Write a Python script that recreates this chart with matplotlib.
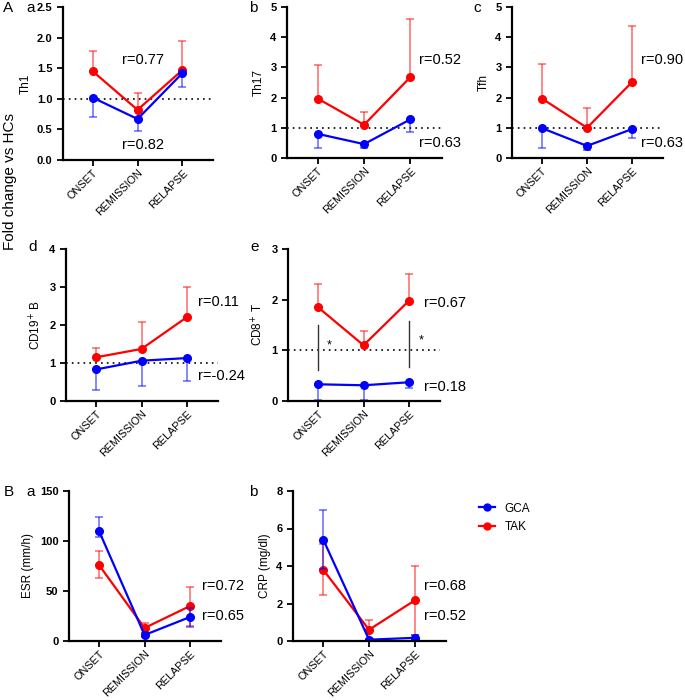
import numpy as np
import matplotlib
matplotlib.use('Agg')
import matplotlib.pyplot as plt
from matplotlib.lines import Line2D

plt.rcParams['font.family'] = ['Liberation Sans', 'DejaVu Sans']

phases = ['ONSET', 'REMISSION', 'RELAPSE']

# panel A: fold change vs HCs (mean, one-sided error bar end)
th1_tak = [1.45, 0.82, 1.47]
th1_tak_hi = [1.78, 1.09, 1.94]
th1_gca = [1.02, 0.67, 1.42]
th1_gca_lo = [0.70, 0.47, 1.20]

th17_tak = [1.97, 1.10, 2.68]
th17_tak_hi = [3.08, 1.52, 4.60]
th17_gca = [0.80, 0.46, 1.28]
th17_gca_lo = [0.32, 0.32, 0.85]

tfh_tak = [1.97, 1.00, 2.52]
tfh_tak_hi = [3.12, 1.66, 4.37]
tfh_gca = [0.99, 0.40, 0.96]
tfh_gca_lo = [0.32, 0.25, 0.65]

cd19_tak = [1.15, 1.37, 2.21]
cd19_tak_hi = [1.40, 2.09, 3.00]
cd19_gca = [0.83, 1.06, 1.13]
cd19_gca_lo = [0.30, 0.40, 0.53]

cd8_tak = [1.85, 1.10, 1.98]
cd8_tak_hi = [2.30, 1.39, 2.50]
cd8_gca = [0.33, 0.31, 0.37]
cd8_gca_lo = [0.02, 0.02, 0.26]

# panel B: ESR and CRP (mean, lower, upper)
esr_tak = [76, 13, 35]
esr_tak_lo = [63, 8, 15]
esr_tak_hi = [90, 18, 54]
esr_gca = [110, 6, 24]
esr_gca_lo = [104, 4, 14]
esr_gca_hi = [124, 8, 33]

crp_tak = [3.80, 0.60, 2.17]
crp_tak_lo = [2.45, 0.05, 0.34]
crp_tak_hi = [5.20, 1.13, 3.98]
crp_gca = [5.41, 0.07, 0.17]
crp_gca_lo = [3.85, 0.03, 0.05]
crp_gca_hi = [6.98, 0.11, 0.32]

W, H = 685, 700
fig = plt.figure(figsize=(W / 100, H / 100), dpi=100)

RED = '#ff0000'
BLUE = '#0000ff'
x = np.arange(3)
RSIZE = 10.5
YLSIZE = 8.5


def make_ax(l, r, t, b):
    ax = fig.add_axes([l / W, 1 - b / H, (r - l) / W, (b - t) / H])
    for s in ['top', 'right']:
        ax.spines[s].set_visible(False)
    for s in ['left', 'bottom']:
        ax.spines[s].set_linewidth(1.6)
    ax.tick_params(width=1.3, length=4, labelsize=8)
    ax.tick_params(axis='x', pad=1.5)
    ax.set_xticks(x)
    ax.set_xticklabels(phases, rotation=45, ha='right', rotation_mode='anchor',
                       fontsize=7.8)
    ax.set_xlim(-0.66, 2.68)
    return ax


def set_yticks(ax, ticks, labels):
    ax.set_yticks(ticks)
    ax.set_yticklabels(labels, fontweight='bold', fontsize=8)


def series(ax, y, lo, hi, color):
    y = np.array(y, dtype=float)
    err = [y - np.array(lo, dtype=float), np.array(hi, dtype=float) - y]
    ec = matplotlib.colors.to_rgba(color, 0.55)
    ax.errorbar(x, y, yerr=err, fmt='none', ecolor=ec, elinewidth=1.2,
                capsize=3, capthick=1.2)
    ax.plot(x, y, '-o', color=color, lw=1.6, ms=5.5)


def panel_a(ax, tak, tak_hi, gca, gca_lo, ymax, ticks, labels, ylabel):
    ax.axhline(1, color='black', ls=(0, (1, 2.5)), lw=1.2)
    series(ax, tak, tak, tak_hi, RED)
    series(ax, gca, gca_lo, gca, BLUE)
    ax.set_ylim(0, ymax)
    set_yticks(ax, ticks, labels)
    ax.set_ylabel(ylabel, fontsize=YLSIZE, labelpad=4)


# A a
ax = make_ax(63, 213, 7, 160)
panel_a(ax, th1_tak, th1_tak_hi, th1_gca, th1_gca_lo, 2.5,
        [0, 0.5, 1.0, 1.5, 2.0, 2.5], ['0.0', '0.5', '1.0', '1.5', '2.0', '2.5'],
        'Th1')
ax.text(1.12, 1.63, 'r=0.77', fontsize=RSIZE, ha='center', va='center')
ax.text(1.12, 0.25, 'r=0.82', fontsize=RSIZE, ha='center', va='center')

# A b
ax = make_ax(287, 442, 7, 158)
panel_a(ax, th17_tak, th17_tak_hi, th17_gca, th17_gca_lo, 5, range(6),
        [str(i) for i in range(6)], 'Th17')
ax.text(2.18, 3.25, 'r=0.52', fontsize=RSIZE, va='center')
ax.text(2.18, 0.5, 'r=0.63', fontsize=RSIZE, va='center')

# A c
ax = make_ax(512, 663, 7, 158)
panel_a(ax, tfh_tak, tfh_tak_hi, tfh_gca, tfh_gca_lo, 5, range(6),
        [str(i) for i in range(6)], 'Tfh')
ax.text(2.2, 3.25, 'r=0.90', fontsize=RSIZE, va='center')
ax.text(2.2, 0.5, 'r=0.63', fontsize=RSIZE, va='center')

# A d
ax = make_ax(66, 218, 249, 401)
panel_a(ax, cd19_tak, cd19_tak_hi, cd19_gca, cd19_gca_lo, 4, range(5),
        [str(i) for i in range(5)], 'CD19$^{+}$ B')
ax.text(2.24, 2.6, 'r=0.11', fontsize=RSIZE, va='center')
ax.text(2.24, 0.66, 'r=-0.24', fontsize=RSIZE, va='center')

# A e
ax = make_ax(288, 440, 249, 401)
panel_a(ax, cd8_tak, cd8_tak_hi, cd8_gca, cd8_gca_lo, 3, range(4),
        [str(i) for i in range(4)], 'CD8$^{+}$ T')
ax.plot([0, 0], [0.62, 1.5], color='#333333', lw=1)
ax.plot([2, 2], [0.68, 1.57], color='#333333', lw=1)
ax.text(0.24, 0.98, '*', fontsize=9, ha='center', va='bottom')
ax.text(2.26, 1.07, '*', fontsize=9, ha='center', va='bottom')
ax.text(2.33, 1.94, 'r=0.67', fontsize=RSIZE, va='center')
ax.text(2.33, 0.27, 'r=0.18', fontsize=RSIZE, va='center')

# B a
ax = make_ax(69, 221, 491, 641)
series(ax, esr_tak, esr_tak_lo, esr_tak_hi, RED)
series(ax, esr_gca, esr_gca_lo, esr_gca_hi, BLUE)
ax.set_ylim(0, 150)
set_yticks(ax, [0, 50, 100, 150], ['0', '50', '100', '150'])
ax.set_ylabel('ESR (mm/h)', fontsize=YLSIZE, labelpad=4)
ax.text(2.26, 55, 'r=0.72', fontsize=RSIZE, va='center')
ax.text(2.26, 25, 'r=0.65', fontsize=RSIZE, va='center')

# B b
ax = make_ax(293, 446, 491, 641)
series(ax, crp_tak, crp_tak_lo, crp_tak_hi, RED)
series(ax, crp_gca, crp_gca_lo, crp_gca_hi, BLUE)
ax.set_ylim(0, 8)
set_yticks(ax, [0, 2, 4, 6, 8], ['0', '2', '4', '6', '8'])
ax.set_ylabel('CRP (mg/dl)', fontsize=YLSIZE, labelpad=4)
ax.text(2.2, 2.91, 'r=0.68', fontsize=RSIZE, va='center')
ax.text(2.2, 1.32, 'r=0.52', fontsize=RSIZE, va='center')

# legend
handles = [Line2D([], [], color=BLUE, marker='o', ms=5, lw=1.6),
           Line2D([], [], color=RED, marker='o', ms=5, lw=1.6)]
fig.legend(handles, ['GCA', 'TAK'], loc='upper left',
           bbox_to_anchor=(468 / W, 1 - 492 / H), frameon=False, fontsize=8.5,
           handlelength=1.4, handletextpad=0.8, labelspacing=0.55)

# panel letters and shared label
lab = dict(fontsize=11, va='center')
fig.text(3 / W, 1 - 8 / H, 'A', **lab)
fig.text(26 / W, 1 - 8 / H, 'a', **lab)
fig.text(249 / W, 1 - 8 / H, 'b', **lab)
fig.text(473 / W, 1 - 8 / H, 'c', **lab)
fig.text(28 / W, 1 - 247 / H, 'd', **lab)
fig.text(250 / W, 1 - 247 / H, 'e', **lab)
fig.text(4 / W, 1 - 492 / H, 'B', **lab)
fig.text(26 / W, 1 - 492 / H, 'a', **lab)
fig.text(249 / W, 1 - 492 / H, 'b', **lab)
fig.text(10 / W, 1 - 182 / H, 'Fold change vs HCs', fontsize=11,
         rotation=90, ha='center', va='center')

fig.savefig('out.png', dpi=100)
